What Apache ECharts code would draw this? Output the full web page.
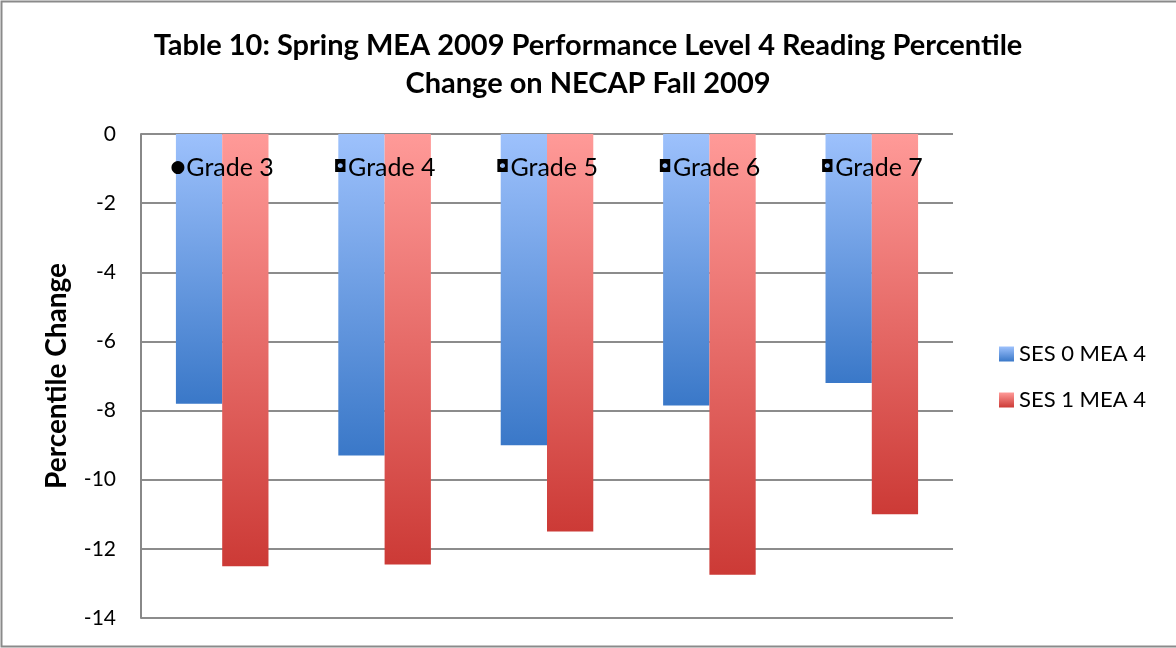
<!DOCTYPE html>
<html>
<head>
<meta charset="utf-8">
<script src="https://cdn.jsdelivr.net/npm/echarts@6/dist/echarts.min.js"></script>
<style>
  html, body { margin: 0; padding: 0; background: #fff; }
  #chart { width: 1176px; height: 648px; }
</style>
</head>
<body>
<div id="chart"></div>
<script>
// data
var grades = ['●Grade 3', '◘Grade 4', '◘Grade 5', '◘Grade 6', '◘Grade 7'];
var ses0 = [-7.8, -9.3, -9.0, -7.85, -7.2];
var ses1 = [-12.5, -12.45, -11.5, -12.75, -11.0];
var seriesNames = ['SES 0 MEA 4', 'SES 1 MEA 4'];
var yTicks = [0, -2, -4, -6, -8, -10, -12, -14];

var font = 'Lato, "Open Sans", sans-serif';

var myChart = echarts.init(document.getElementById('chart'));

function grad(top, bottom) {
    return new echarts.graphic.LinearGradient(0, 0, 0, 1, [
        { offset: 0, color: top },
        { offset: 1, color: bottom }
    ]);
}

var option = {
    backgroundColor: '#fff',
    title: {
        text: 'Table 10: Spring MEA 2009 Performance Level 4 Reading Percentile\nChange on NECAP Fall 2009',
        left: 'center',
        top: 22,
        textStyle: {
            fontFamily: font,
            fontSize: 29,
            fontWeight: 'bold',
            color: '#000',
            lineHeight: 38
        }
    },
    legend: {
        orient: 'vertical',
        left: 994,
        top: 338,
        itemWidth: 15,
        itemHeight: 15,
        itemGap: 24,
        icon: 'rect',
        textStyle: { fontFamily: font, fontSize: 22, color: '#000' },
        data: seriesNames
    },
    grid: {
        left: 141,
        top: 134,
        width: 812,
        height: 484
    },
    xAxis: {
        type: 'category',
        position: 'top',
        data: grades,
        z: 10,
        axisLine: { show: false },
        axisTick: { show: false },
        axisLabel: {
            inside: true,
            interval: 0,
            hideOverlap: false,
            margin: 34,
            verticalAlign: 'middle',
            fontFamily: font,
            fontSize: 25,
            color: '#000',
            // the odd bullet glyph in front of each label
            formatter: function (v) {
                return '{m|' + v.charAt(0) + '}{t|' + v.slice(1) + '}';
            },
            rich: {
                m: { fontFamily: '"DejaVu Sans"', fontSize: 17, color: '#000', padding: [0, 1, 0, 0] },
                t: { fontFamily: font, fontSize: 25, color: '#000' }
            }
        }
    },
    yAxis: {
        type: 'value',
        min: yTicks[yTicks.length - 1],
        max: yTicks[0],
        interval: 2,
        name: 'Percentile Change',
        nameLocation: 'middle',
        nameGap: 70,
        nameTextStyle: {
            fontFamily: font,
            fontSize: 28,
            fontWeight: 'bold',
            color: '#000'
        },
        axisLine: { show: true, lineStyle: { color: '#888', width: 2 } },
        axisTick: { show: false },
        axisLabel: {
            margin: 25,
            fontFamily: font,
            fontSize: 21,
            color: '#000'
        },
        splitLine: { lineStyle: { color: '#8c8c8c', width: 2 } }
    },
    series: [
        {
            name: seriesNames[0],
            type: 'bar',
            data: ses0,
            barGap: '0%',
            barCategoryGap: '43%',
            itemStyle: {
                color: grad('#9dc1fc', '#3a78c8'),
                shadowColor: 'rgba(0,0,0,0.3)',
                shadowBlur: 4,
                shadowOffsetX: 2,
                shadowOffsetY: 2
            }
        },
        {
            name: seriesNames[1],
            type: 'bar',
            data: ses1,
            itemStyle: {
                color: grad('#ff9a98', '#cc3a36'),
                shadowColor: 'rgba(0,0,0,0.3)',
                shadowBlur: 4,
                shadowOffsetX: 2,
                shadowOffsetY: 2
            }
        }
    ],
    graphic: [
        {
            type: 'rect',
            shape: { x: 1.5, y: 1.5, width: 1180, height: 645 },
            style: { fill: null, stroke: '#8a8a8a', lineWidth: 2 },
            silent: true
        }
    ]
};

myChart.setOption(option);
</script>
</body>
</html>
